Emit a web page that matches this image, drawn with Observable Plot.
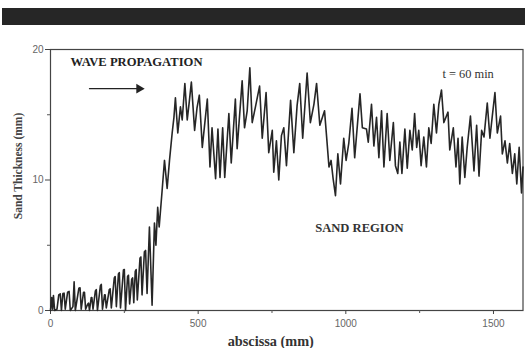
<!DOCTYPE html>
<html>
<head>
<meta charset="utf-8">
<script src="https://cdn.jsdelivr.net/npm/d3@7"></script>
<script src="https://cdn.jsdelivr.net/npm/@observablehq/plot@0.6"></script>
<style>
  html, body { margin: 0; padding: 0; background: #fff; }
  #wrap { position: relative; width: 525px; height: 348px; overflow: hidden; }
  #band { position: absolute; left: 2px; right: 0; top: 8px; height: 17px; background: #262626; }
  #chart { position: absolute; left: 0; top: 0; }
</style>
</head>
<body>
<div id="wrap"><div id="band"></div><div id="chart"></div></div>
<script>
// abscissa (mm)
const abscissa = [
  0,4,7,10,14,22,28,33,37,42,46,50,58,63,67,76,80,84,96,100,104,112,115,119,126,129,132,138,140,144,
  152,155,159,169,172,176,183,185,189,199,202,206,216,219,223,230,233,237,247,250,254,261,264,268,275,278,282,287,290,294,
  303,306,310,318,322,327,335,344,352,357,363,368,378,386,395,403,412,418,423,431,440,446,455,463,470,477,488,496,504,
  514,531,540,547,559,567,574,583,590,604,612,626,632,649,657,666,675,683,694,708,717,730,739,751,756,765,773,782,790,799,
  813,824,835,844,854,869,880,892,901,912,928,935,943,950,957,965,973,982,993,1001,1010,1021,1030,1048,
  1056,1070,1076,1087,1095,1104,1112,1121,1129,1140,1149,1161,1168,1176,1183,1190,1200,1208,1217,1225,1233,1240,1247,1255,1264,1273,
  1281,1289,1298,1307,1315,1324,1332,1346,1352,1364,1373,1380,1386,1394,1403,1411,1422,1434,1443,1451,1460,1468,1479,1488,1496,1505,
  1513,1524,1530,1539,1547,1555,1564,1572,1579,1587,1595,1600
];
// sand thickness (mm)
const thickness = [
  0,1.0,0.1,1.15,0,0.1,1.2,1.28,0,1.3,1.33,0.1,1.4,1.46,0,0.3,2.2,0,1.7,1.74,0.1,1.4,1.4,0.1,0.5,0.56,0,1.0,1.0,0.1,
  1.5,1.6,0,1.9,2.0,0.1,1.2,1.2,0.2,1.6,1.66,0.2,2.5,2.6,0.3,2.8,2.9,0.2,3.1,3.14,0,2.6,2.7,0.5,2.4,2.5,0.6,3.0,3.14,0.8,
  4.0,4.1,1.2,4.5,4.6,1.3,6.4,0.4,6.7,5.0,7.9,6.4,9.2,11.5,9.35,11.5,13.6,14.8,16.3,13.6,15.6,14.6,17.4,14.6,16.0,17.5,13.8,15.5,16.5,
  12.5,16.2,11.0,14.0,10.1,13.9,10.2,14.0,10.2,15.1,11.3,16.2,12.4,17.6,14.0,15.3,18.6,14.4,15.6,17.2,13.2,16.7,12.1,13.8,10.6,13.0,10.0,13.4,14.0,11.1,
  16.1,12.1,15.7,17.4,13.2,18.2,14.4,15.8,17.4,14.2,15.3,13.3,11.0,11.5,10.1,8.8,12.0,9.7,13.2,11.5,12.8,15.5,11.7,16.6,
  14.0,13.9,12.9,15.8,12.6,14.8,11.7,15.3,11.0,15.1,11.5,14.4,11.1,10.5,12.9,10.5,13.9,10.9,13.8,12.3,15.1,12.5,13.8,11.1,13.3,11.0,
  14.0,12.8,15.8,13.6,15.8,16.9,14.4,15.2,12.3,14.0,11.0,13.2,9.7,13.3,10.2,12.5,14.9,10.7,14.2,10.3,13.8,13.3,15.9,13.2,14.9,16.7,
  13.6,14.9,12.0,13.0,11.3,12.8,10.5,12.0,9.7,12.5,9.0,11.0
];

const xMajorTicks = [0, 500, 1000, 1500];
const xMinorTicks = [250, 750, 1250];
const yMajorTicks = [0, 10, 20];
const yMinorTicks = [5, 15];

const annotations = ["WAVE PROPAGATION", "t = 60 min", "SAND REGION"];
const annX = [68, 1414, 1046];
const annY = [18.7, 17.8, 6.05];
const arrowX = [132, 300];
const arrowY = [17.0, 17.0];
const xLabel = "abscissa (mm)";
const yLabel = "Sand Thickness (mm)";

const data = abscissa.map((x, i) => ({x, y: thickness[i]}));
const serif = "'Liberation Serif', 'Times New Roman', serif";
const sans = "'Liberation Sans', Arial, sans-serif";

const chart = Plot.plot({
  width: 525,
  height: 348,
  marginLeft: 50,
  marginRight: 2.5,
  marginTop: 49,
  marginBottom: 38,
  style: {fontFamily: sans, fontSize: "10px", color: "#555", background: "transparent"},
  x: {domain: [0, 1600]},
  y: {domain: [0, 20]},
  marks: [
    Plot.frame({stroke: "#444", strokeWidth: 1.2}),
    Plot.axisX({ticks: xMajorTicks, tickSize: 4, tickPadding: 5, label: null, fill: "#666", stroke: "#444", tickFormat: d => String(d)}),
    Plot.axisX({ticks: xMinorTicks, tickSize: 3, tickFormat: () => "", label: null, stroke: "#555"}),
    Plot.axisY({ticks: yMajorTicks, tickSize: 5, tickPadding: 2, label: null, fill: "#666", stroke: "#444"}),
    Plot.axisY({ticks: yMinorTicks, tickSize: 3, tickFormat: () => "", label: null, stroke: "#555"}),
    Plot.line(data, {x: "x", y: "y", stroke: "#262626", strokeWidth: 1.6, curve: "linear"}),
    Plot.text([annotations[0]], {x: annX[0], y: annY[0], text: d => d, textAnchor: "start", lineAnchor: "bottom",
      fontFamily: serif, fontWeight: "bold", fontSize: 12.6, fill: "#222"}),
    Plot.text([annotations[1]], {x: annX[1], y: annY[1], text: d => d, textAnchor: "middle", lineAnchor: "bottom",
      fontFamily: serif, fontSize: 12.4, fill: "#333"}),
    Plot.text([annotations[2]], {x: annX[2], y: annY[2], text: d => d, textAnchor: "middle", lineAnchor: "bottom",
      fontFamily: serif, fontWeight: "bold", fontSize: 12.6, fill: "#333"}),
    Plot.line(arrowX.map((x, i) => ({x, y: arrowY[i]})), {x: "x", y: "y", stroke: "#222", strokeWidth: 1.2}),
    Plot.dot([{x: arrowX[1], y: arrowY[1]}], {x: "x", y: "y", symbol: "triangle", rotate: 90, r: 3.6, fill: "#222", stroke: "none"}),
    Plot.text([xLabel], {frameAnchor: "bottom", text: d => d, textAnchor: "middle", dx: -16, dy: 35, lineAnchor: "bottom",
      fontFamily: serif, fontWeight: "bold", fontSize: 14.3, fill: "#333"}),
    Plot.text([yLabel], {frameAnchor: "left", text: d => d, textAnchor: "middle", rotate: -90, dx: -32, dy: -14, lineAnchor: "middle",
      fontFamily: serif, fontWeight: "bold", fontSize: 11.5, fill: "#444"})
  ]
});
document.getElementById("chart").appendChild(chart);
</script>
</body>
</html>
